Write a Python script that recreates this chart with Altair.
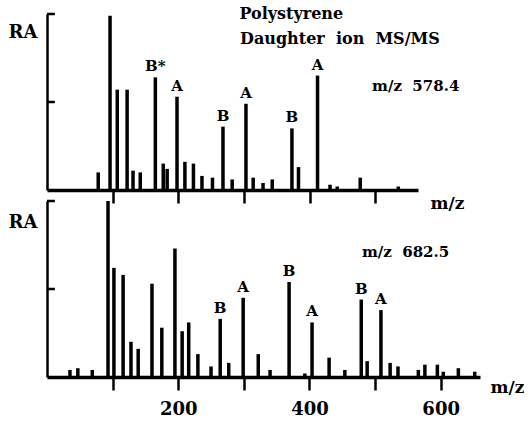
import altair as alt
import pandas as pd

FONT = "DejaVu Serif"

# ---- top spectrum: daughter ions of m/z 578.4 ----
top_mz = [78, 96, 107, 122, 131, 142, 165, 177, 183, 198, 210, 223, 236, 252, 268,
          282, 303, 314, 329, 343, 373, 383, 412, 431, 442, 477, 535]
top_ra = [10, 99, 57, 57, 11, 10, 64, 15, 12, 53, 16, 15, 8, 7, 36,
          6, 49, 7, 4, 6, 35, 13, 65, 3, 2, 7, 2]
top_lab_mz = [165, 198, 268, 303, 373, 412]
top_lab_ra = [64, 53, 36, 49, 35, 65]
top_lab = ["B*", "A", "B", "A", "B", "A"]

# ---- bottom spectrum: daughter ions of m/z 682.5 ----
bot_mz = [35, 47, 69, 93, 102, 116, 128, 139, 160, 175, 195, 206, 216, 230, 250, 264,
          277, 299, 322, 340, 369, 393, 404, 430, 454, 479, 488, 509, 523, 535, 566,
          576, 595, 604, 627, 652]
bot_ra = [4, 5, 4, 100, 62, 58, 20, 16, 53, 28, 73, 26, 31, 13, 6, 33,
          8, 45, 13, 4, 54, 2, 31, 11, 4, 44, 9, 38, 8, 6, 4,
          7, 7, 3, 5, 3]
bot_lab_mz = [264, 299, 369, 404, 479, 509]
bot_lab_ra = [33, 45, 54, 31, 44, 38]
bot_lab = ["B", "A", "B", "A", "B", "A"]

# annotations
top_text = ["Polystyrene", "Daughter\u00a0 ion\u00a0 MS/MS", "m/z\u00a0 578.4"]
top_text_mz = [293, 294, 495]
top_text_ra = [100, 86, 59]
top_text_size = [16, 16, 15]
bot_text = ["m/z\u00a0 682.5"]
bot_text_mz = [480]
bot_text_ra = [71]
bot_text_size = [15]

ytick_vals = [50, 100]
top_xticks = [100, 200, 300, 400, 500]
bot_xticks = [100, 200, 300, 400, 500, 600]
top_xmax = 565
bot_xmax = 660
px_per_unit = 0.656
panel_h = 176


def panel(mz, ra, lmz, lra, lab, tmz, tra, ttxt, tsize, xmax, xticks, show_labels,
          mz_title_x, mz_title_y, ra_title_y):
    width = round(xmax * px_per_unit)
    xscale = alt.Scale(domain=[0, xmax], nice=False, zero=False)
    yscale = alt.Scale(domain=[0, 100], nice=False)
    xaxis = alt.Axis(
        values=xticks, grid=False, domainColor="black", domainWidth=3.5,
        tickColor="black", tickWidth=2.5, tickSize=13,
        labels=show_labels,
        labelExpr="datum.value % 200 == 0 ? datum.label : ''",
        labelFont=FONT, labelFontSize=18, labelFontWeight="bold", labelColor="black",
        labelPadding=10,
        title="m/z", titleFont=FONT, titleFontSize=17, titleFontWeight="bold",
        titleColor="black", titleAngle=0, titleAlign="left", titleBaseline="middle",
        titleX=mz_title_x, titleY=mz_title_y,
    )
    yaxis = alt.Axis(
        grid=False, labels=False, ticks=False, domainColor="black", domainWidth=2.5,
        title="RA", titleFont=FONT, titleFontSize=18, titleFontWeight="bold",
        titleColor="black", titleAngle=0, titleAlign="left", titleBaseline="middle",
        titleX=-39, titleY=ra_title_y,
    )
    df = pd.DataFrame({"mz": mz, "ra": ra})
    peaks = alt.Chart(df).mark_rule(color="black", strokeWidth=3.5).encode(
        x=alt.X("mz:Q", scale=xscale, axis=xaxis),
        y=alt.Y("ra:Q", scale=yscale, axis=yaxis),
        y2=alt.datum(0),
    )
    tdf = pd.DataFrame({"y": ytick_vals, "x0": [0] * len(ytick_vals), "x1": [12] * len(ytick_vals)})
    yticks = alt.Chart(tdf).mark_rule(color="black", strokeWidth=2.5).encode(
        x=alt.X("x0:Q", scale=xscale), x2="x1:Q", y=alt.Y("y:Q", scale=yscale)
    )
    ldf = pd.DataFrame({"mz": lmz, "ra": lra, "lab": lab})
    labels = alt.Chart(ldf).mark_text(
        font=FONT, fontSize=15, fontWeight="bold", color="black",
        baseline="alphabetic", align="center", dy=-6,
    ).encode(x=alt.X("mz:Q", scale=xscale), y=alt.Y("ra:Q", scale=yscale), text="lab:N")
    adf = pd.DataFrame({"mz": tmz, "ra": tra, "txt": ttxt, "size": tsize})
    ann = alt.Chart(adf).mark_text(
        font=FONT, fontWeight="bold", color="black", baseline="middle", align="left",
    ).encode(
        x=alt.X("mz:Q", scale=xscale), y=alt.Y("ra:Q", scale=yscale), text="txt:N",
        size=alt.Size("size:Q", scale=None, legend=None),
    )
    return alt.layer(peaks, yticks, labels, ann).properties(width=width, height=panel_h)


top = panel(top_mz, top_ra, top_lab_mz, top_lab_ra, top_lab,
            top_text_mz, top_text_ra, top_text, top_text_size,
            top_xmax, top_xticks, False, 383, 13, 18)
bottom = panel(bot_mz, bot_ra, bot_lab_mz, bot_lab_ra, bot_lab,
               bot_text_mz, bot_text_ra, bot_text, bot_text_size,
               bot_xmax, bot_xticks, True, 443, 10, 21)

chart = alt.vconcat(top, bottom, spacing=11, bounds="flush").properties(
    padding={"left": 8, "top": 6, "right": 0, "bottom": 0},
    background="white",
).configure_view(stroke=None)

chart.save("out.html", embed_options={"renderer": "svg", "actions": False})
